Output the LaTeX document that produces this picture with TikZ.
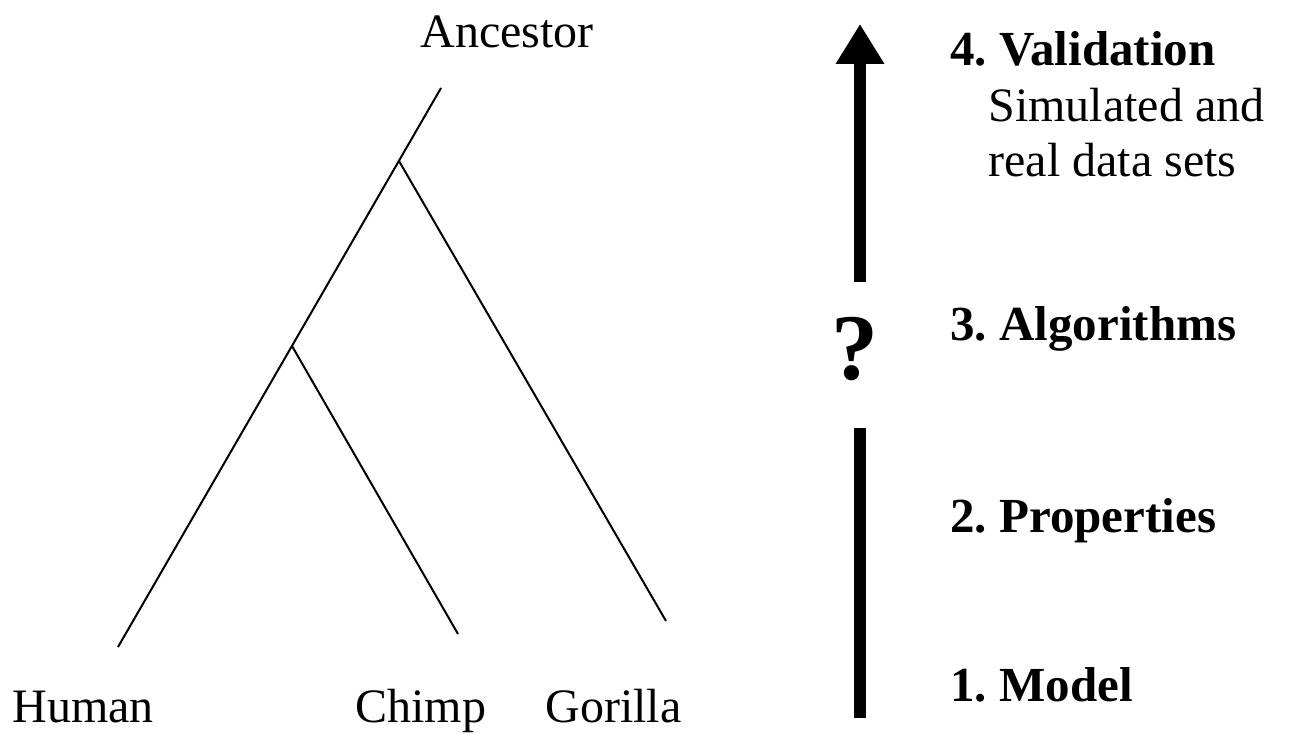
\documentclass[tikz,border=0pt]{standalone}
\usepackage{fontspec}
\setmainfont{Liberation Serif}
\usetikzlibrary{arrows.meta,positioning}
\frenchspacing

\begin{document}
\begin{tikzpicture}
	[x=0.5pt,y=-0.5pt,
	 every node/.style={inner sep=0pt,font=\fontsize{24}{28}\selectfont},
	 branch/.style={line width=1pt},
	 stage/.style={anchor=base west,font=\fontsize{24.5}{28}\selectfont\bfseries},
	 note/.style={anchor=base west},
	 bar/.style={line width=6pt}]

	\useasboundingbox (0,0) rectangle (1289,733);

	% the tree
	\coordinate (r) at (441,88);
	\coordinate (g) at (399,161);
	\coordinate (h) at (292,346);
	\coordinate (hu) at (118,647);
	\coordinate (ch) at (458,634);
	\coordinate (go) at (666,621);

	\draw[branch] (r) -- (hu);
	\draw[branch] (g) -- (go);
	\draw[branch] (h) -- (ch);

	\node[anchor=base] (anc) at (507,48) {Ancestor};
	\node[note] (human) at (12,722) {Human};
	\node[note] (chimp) at (355,722) {Chimp};
	\node[note] (gorilla) at (545,722) {Gorilla};

	% the steps
	\coordinate (top) at (860,24);
	\coordinate (mid) at (860,282);
	\coordinate (low) at (860,428);
	\coordinate (bot) at (860,718);
	\draw[bar,-{Triangle[width=23pt,length=20pt]}] (mid) -- (top);
	\draw[bar] (low) -- (bot);
	\node[font=\fontsize{47}{52}\selectfont\bfseries] (q) at (855,349) {?};

	\node[stage] (valid) at (950,66) {4. Validation};
	\node[note] (sim) at (988,121) {Simulated and};
	\node[note] (real) at (988,176) {real data sets};
	\node[stage] (algo) at (950,340) {3. Algorithms};
	\node[stage] (prop) at (950,532) {2. Properties};
	\node[stage] (model) at (950,701) {1. Model};
\end{tikzpicture}
\end{document}
